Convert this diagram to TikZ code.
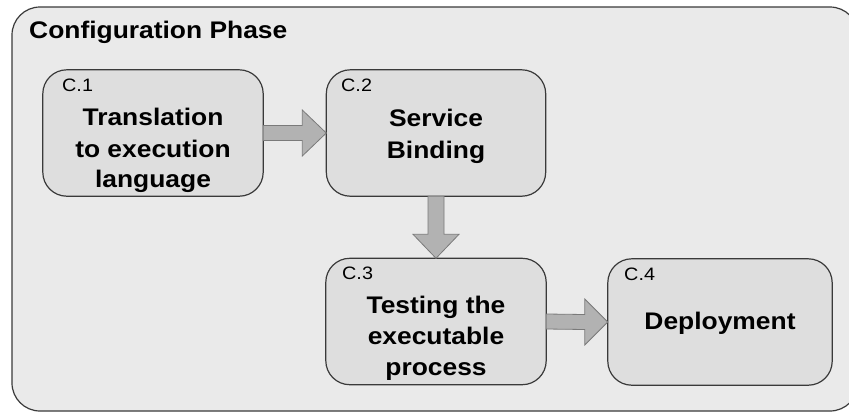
\documentclass[tikz,border=0pt]{standalone}
\usepackage{fontspec}
\setmainfont{Liberation Sans}[FakeStretch=1.1]
\usetikzlibrary{calc}
\definecolor{outerfill}{HTML}{EAEAEA}
\definecolor{boxfill}{HTML}{DEDEDE}
\definecolor{arrfill}{HTML}{B2B2B2}
\definecolor{arrline}{HTML}{7A7A7A}
\definecolor{edge}{HTML}{3A3A3A}
\begin{document}
\begin{tikzpicture}[x=1pt,y=-1pt,
  boxtext/.style={font=\fontsize{24}{30}\selectfont\bfseries,align=center,anchor=base,inner sep=0pt},
  tag/.style={font=\fontsize{18}{20}\selectfont,anchor=north west,inner sep=0pt},
  fat/.style={draw=arrline,line width=0.8pt,fill=arrfill,line join=miter}]
\useasboundingbox (0,0) rectangle (849,413);
\clip (0,0) rectangle (849,413);
\draw[draw=edge,line width=1.2pt,fill=outerfill,rounded corners=28pt] (12,7) rectangle (858,411);
\node[anchor=base west,inner sep=0pt,font=\fontsize{24}{28}\selectfont\bfseries] (title) at (29,38) {Configuration Phase};

\node[minimum width=220pt,minimum height=126pt,inner sep=0pt] (c1) at (153,133) {};
\node[minimum width=219pt,minimum height=126pt,inner sep=0pt] (c2) at (436,133) {};
\node[minimum width=220pt,minimum height=126pt,inner sep=0pt] (c3) at (436,321.5) {};
\node[minimum width=224pt,minimum height=126pt,inner sep=0pt] (c4) at (720,322) {};
\foreach \n in {c1,c2,c3,c4}{
  \draw[draw=edge,line width=1.2pt,fill=boxfill,rounded corners=24pt] (\n.north west) rectangle (\n.south east);
}

\node[tag] (t1) at (62,79) {C.1};
\node[tag] (t2) at (341,79) {C.2};
\node[tag] (t3) at (342,267) {C.3};
\node[tag] (t4) at (624,268) {C.4};

\node[boxtext] (l1a) at (153,125) {Translation};
\node[boxtext] (l1b) at (153,157) {to execution};
\node[boxtext] (l1c) at (153,187) {language};
\node[boxtext] (l2a) at (436,126) {Service};
\node[boxtext] (l2b) at (436,158) {Binding};
\node[boxtext] (l3a) at (436,313) {Testing the};
\node[boxtext] (l3b) at (436,344) {executable};
\node[boxtext] (l3c) at (436,375) {process};
\node[boxtext] (l4a) at (720,329) {Deployment};

% horizontal fat arrow c1 -> c2
\draw[fat] ($(c1.east)+(0,-7.5)$) -- ($(c2.west)+(-24,-7.5)$) -- ($(c2.west)+(-24,-23)$)
  -- (c2.west) -- ($(c2.west)+(-24,23)$) -- ($(c2.west)+(-24,7.5)$) -- ($(c1.east)+(0,7.5)$) -- cycle;
% vertical fat arrow c2 -> c3
\draw[fat] ($(c2.south)+(-8,0)$) -- ($(c3.north)+(-8,-24)$) -- ($(c3.north)+(-23,-24)$)
  -- (c3.north) -- ($(c3.north)+(23,-24)$) -- ($(c3.north)+(8,-24)$) -- ($(c2.south)+(8,0)$) -- cycle;
% horizontal fat arrow c3 -> c4
\draw[fat] ($(c3.east)+(0,-7.5)$) -- ($(c4.west)+(-23,-7.5)$) -- ($(c4.west)+(-23,-23)$)
  -- (c4.west) -- ($(c4.west)+(-23,23)$) -- ($(c4.west)+(-23,7.5)$) -- ($(c3.east)+(0,7.5)$) -- cycle;
\end{tikzpicture}
\end{document}
